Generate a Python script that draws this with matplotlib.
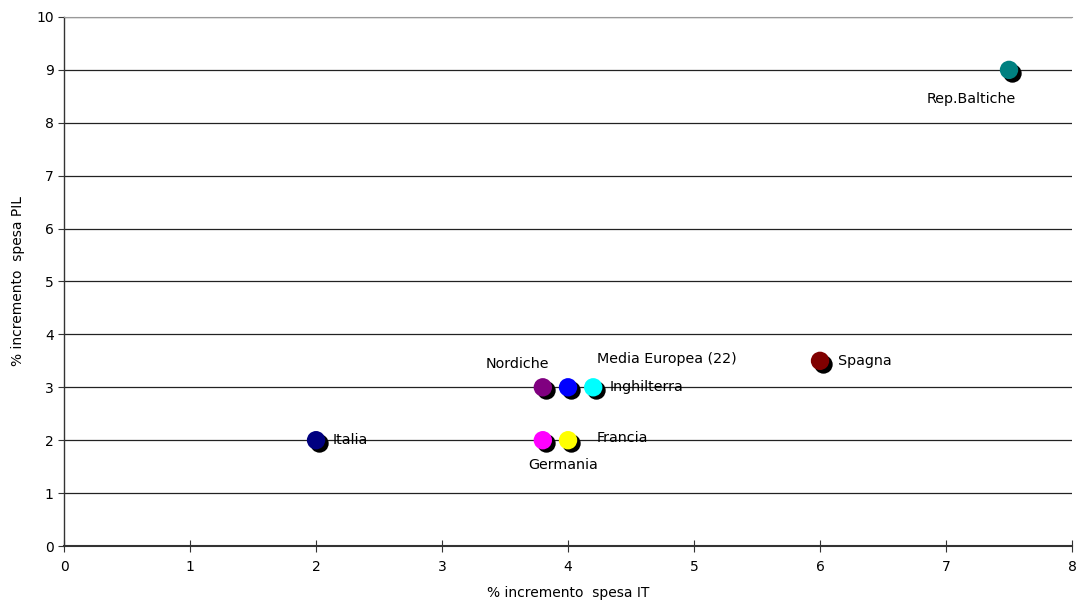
import matplotlib
matplotlib.use("Agg")
import matplotlib.pyplot as plt
from matplotlib.transforms import offset_copy

# Incremento spesa IT vs incremento spesa PIL per paese/area

nomi = ["Italia", "Nordiche", "Media Europea (22)", "Inghilterra", "Germania", "Francia", "Spagna", "Rep.Baltiche"]
spesa_it = [2.0, 3.8, 4.0, 4.2, 3.8, 4.0, 6.0, 7.5]
spesa_pil = [2.0, 3.0, 3.0, 3.0, 2.0, 2.0, 3.5, 9.0]
colori = ["#000080", "#800080", "#0000FF", "#00FFFF", "#FF00FF", "#FFFF00", "#800000", "#008080"]
# posizione etichette (dati) e allineamento
etich_x = [2.13, 3.6, 4.23, 4.33, 3.96, 4.23, 6.14, 7.2]
etich_y = [2.0, 3.44, 3.53, 3.0, 1.53, 2.05, 3.5, 8.45]
etich_ha = ["left", "center", "left", "left", "center", "left", "left", "center"]

fig = plt.figure(figsize=(10.8, 6.02), dpi=100)
ax = fig.add_axes([0.0593, 0.093, 0.9333, 0.8788])

ax.set_xlim(0, 8)
ax.set_ylim(0, 10)
ax.set_xticks(range(0, 9))
ax.set_yticks(range(0, 11))
ax.yaxis.grid(True, color="#222222", lw=0.9)
ax.set_axisbelow(True)

ax.spines["right"].set_visible(False)
ax.spines["top"].set_color("#999999")
ax.spines["left"].set_color("#333333")
ax.spines["bottom"].set_color("#333333")
ax.spines["left"].set_linewidth(1.0)
ax.spines["bottom"].set_linewidth(1.5)
ax.tick_params(axis="x", direction="inout", length=8, colors="#333333", labelcolor="black", labelsize=10, pad=6)
ax.tick_params(axis="y", direction="out", length=4, colors="#333333", labelcolor="black", labelsize=10)

ombra = offset_copy(ax.transData, fig=fig, x=3, y=-3, units="dots")
ax.scatter(spesa_it, spesa_pil, s=175, c="black", transform=ombra, zorder=3, linewidths=0)
ax.scatter(spesa_it, spesa_pil, s=175, c=colori, zorder=4, linewidths=0)

for i in range(len(nomi)):
    ax.text(etich_x[i], etich_y[i], nomi[i], ha=etich_ha[i], va="center", fontsize=10.3, zorder=5)

ax.set_xlabel("% incremento  spesa IT", fontsize=10, labelpad=9)
ax.set_ylabel("% incremento  spesa PIL", fontsize=10, labelpad=8)

fig.savefig("out.png", dpi=100)
